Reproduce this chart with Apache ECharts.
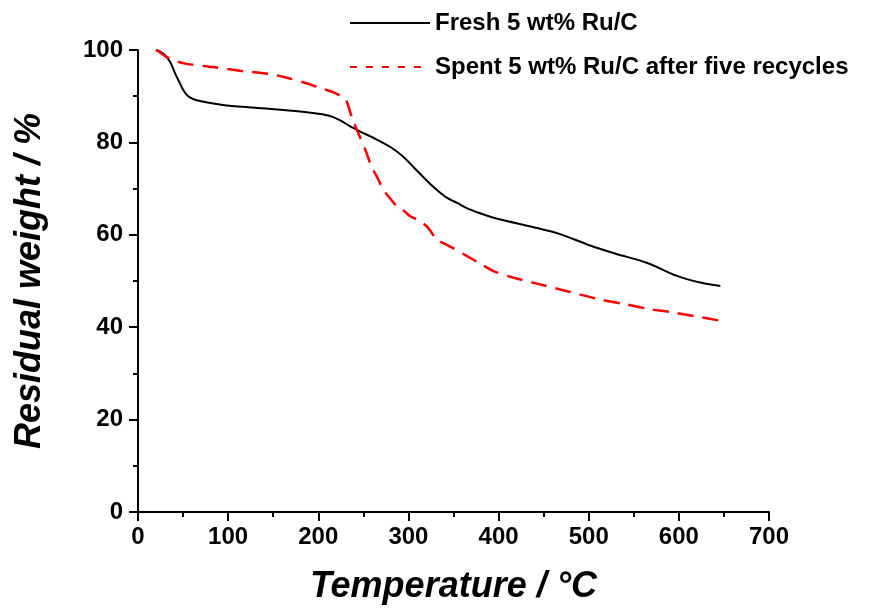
<!DOCTYPE html>
<html>
<head>
<meta charset="utf-8">
<script src="https://cdn.jsdelivr.net/npm/echarts@6/dist/echarts.min.js"></script>
<style>
  html, body { margin: 0; padding: 0; background: #fff; }
  #chart { width: 870px; height: 610px; }
</style>
</head>
<body>
<div id="chart"></div>
<script>
// TGA curves: residual weight (%) versus temperature (°C)
const freshTemp = [20, 25, 30, 36, 41, 46, 50, 55, 61, 70, 94, 130, 180, 200, 213, 225, 235, 246, 262, 280, 293, 305, 318, 331, 342, 354, 368, 385, 402, 440, 469, 500, 530, 565, 598, 625, 646];
const freshWeight = [100, 99.6, 98.9, 97.3, 95.0, 93.0, 91.4, 90.1, 89.4, 88.9, 88.1, 87.5, 86.7, 86.2, 85.7, 84.7, 83.5, 82.4, 80.9, 79.0, 77.1, 74.8, 72.2, 69.8, 68.1, 66.9, 65.5, 64.3, 63.3, 61.6, 60.1, 57.8, 55.9, 53.9, 51.1, 49.6, 48.9];

const spentTemp = [20, 25, 31.5, 40, 54, 83, 113, 146, 165, 187, 205, 215, 223, 230, 238, 246, 253, 259, 266, 272, 280, 287, 295, 302, 311, 320, 326, 331, 346, 365, 380, 395, 415, 439, 476, 513, 540, 568, 590, 617, 646];
const spentWeight = [100, 99.4, 98.5, 97.7, 97.0, 96.3, 95.5, 94.8, 94.0, 92.8, 91.6, 91.0, 90.3, 89.5, 85.0, 81.3, 78.0, 74.8, 72.2, 69.8, 67.8, 66.2, 65.2, 64.0, 63.2, 61.9, 60.4, 59.0, 57.5, 55.4, 53.7, 52.1, 50.8, 49.6, 47.8, 46.0, 45.0, 43.9, 43.3, 42.4, 41.4];

const seriesNames = ['Fresh 5 wt% Ru/C', 'Spent 5 wt% Ru/C after five recycles'];
const xTicks = [0, 100, 200, 300, 400, 500, 600, 700];
const yTicks = [0, 20, 40, 60, 80, 100];

const zip = (xs, ys) => xs.map((x, i) => [x, ys[i]]);

const FONT = '"Liberation Sans", Arial, sans-serif';

const chart = echarts.init(document.getElementById('chart'), null, { renderer: 'canvas' });

const axisCommon = {
  axisLine: { show: true, lineStyle: { color: '#000', width: 2 } },
  axisTick: { show: true, inside: false, length: 9, lineStyle: { color: '#000', width: 2 } },
  minorTick: { show: true, splitNumber: 2, length: 5, lineStyle: { color: '#000', width: 2 } },
  splitLine: { show: false },
  axisLabel: { color: '#000', fontFamily: FONT, fontWeight: 'bold', fontSize: 24 },
  nameLocation: 'middle',
  nameTextStyle: { color: '#000', fontFamily: FONT, fontWeight: 'bold', fontStyle: 'italic' }
};

chart.setOption({
  animation: false,
  backgroundColor: '#fff',
  grid: { left: 138, right: 101, top: 50, bottom: 97, containLabel: false },
  legend: {
    orient: 'vertical',
    left: 344,
    top: 6,
    itemWidth: 80,
    itemHeight: 14,
    itemGap: 20,
    itemStyle: { opacity: 0 },
    textStyle: { color: '#000', fontFamily: FONT, fontWeight: 'bold', fontSize: 24 },
    data: [
      { name: seriesNames[0] },
      { name: seriesNames[1], lineStyle: { type: [7, 9], width: 2 } }
    ]
  },
  xAxis: Object.assign({}, axisCommon, {
    type: 'value',
    min: 0, max: 700, interval: 100,
    name: 'Temperature / °C',
    nameGap: 57,
    nameTextStyle: Object.assign({}, axisCommon.nameTextStyle, { fontSize: 36 }),
    axisLabel: Object.assign({}, axisCommon.axisLabel, {
      margin: 13,
      formatter: v => xTicks.includes(v) ? String(v) : ''
    })
  }),
  yAxis: Object.assign({}, axisCommon, {
    type: 'value',
    min: 0, max: 100, interval: 20,
    name: 'Residual weight / %',
    nameGap: 90,
    nameTextStyle: Object.assign({}, axisCommon.nameTextStyle, { fontSize: 36 }),
    axisLabel: Object.assign({}, axisCommon.axisLabel, {
      margin: 15,
      formatter: v => yTicks.includes(v) ? String(v) : ''
    })
  }),
  series: [
    {
      name: seriesNames[0],
      type: 'line',
      data: zip(freshTemp, freshWeight),
      showSymbol: false,
      symbol: 'none',
      smooth: 0.3,
      lineStyle: { color: '#000', width: 2 },
      itemStyle: { color: '#000' }
    },
    {
      name: seriesNames[1],
      type: 'line',
      data: zip(spentTemp, spentWeight),
      showSymbol: false,
      symbol: 'none',
      smooth: 0.3,
      lineStyle: { color: '#ff0000', width: 2.5, type: [16, 9] },
      itemStyle: { color: '#ff0000' }
    }
  ]
});
</script>
</body>
</html>
